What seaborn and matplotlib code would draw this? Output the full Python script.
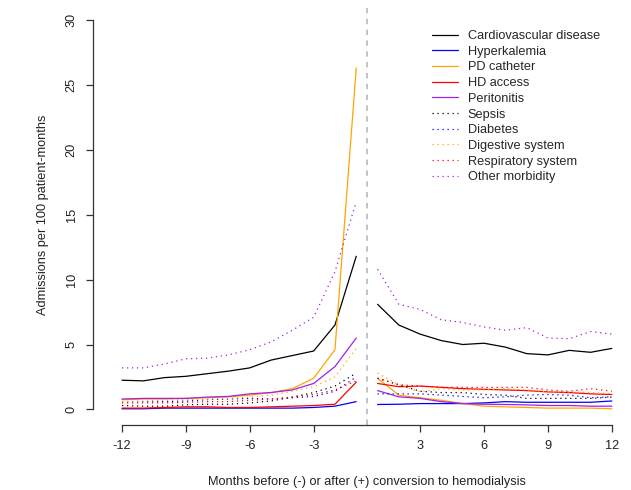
import numpy as np
import pandas as pd
import matplotlib
matplotlib.use('Agg')
import matplotlib.pyplot as plt
import seaborn as sns

# months around conversion (no month 0)
months_before = list(range(-12, 0))
months_after = list(range(1, 13))

cvd_before = [2.25, 2.2, 2.45, 2.55, 2.75, 2.95, 3.2, 3.8, 4.15, 4.5, 6.5, 11.8]
cvd_after = [8.1, 6.5, 5.8, 5.3, 5.0, 5.1, 4.8, 4.3, 4.2, 4.55, 4.4, 4.7]
hyperk_before = [0.05, 0.05, 0.1, 0.1, 0.1, 0.1, 0.1, 0.1, 0.1, 0.15, 0.25, 0.6]
hyperk_after = [0.38, 0.4, 0.45, 0.45, 0.45, 0.5, 0.6, 0.55, 0.55, 0.55, 0.55, 0.65]
pd_before = [0.75, 0.8, 0.8, 0.85, 0.9, 0.97, 1.1, 1.3, 1.6, 2.4, 4.6, 26.3]
pd_after = [2.4, 1.1, 0.9, 0.7, 0.46, 0.25, 0.2, 0.15, 0.1, 0.1, 0.1, 0.05]
hd_before = [0.1, 0.1, 0.15, 0.2, 0.2, 0.15, 0.15, 0.2, 0.25, 0.3, 0.4, 2.1]
hd_after = [2.0, 1.75, 1.8, 1.7, 1.6, 1.55, 1.5, 1.45, 1.35, 1.3, 1.2, 1.15]
peri_before = [0.8, 0.85, 0.85, 0.85, 0.95, 1.0, 1.2, 1.3, 1.5, 2.0, 3.3, 5.5]
peri_after = [1.45, 0.97, 0.85, 0.6, 0.45, 0.4, 0.38, 0.35, 0.3, 0.3, 0.25, 0.25]
sepsis_before = [0.3, 0.25, 0.25, 0.35, 0.4, 0.4, 0.5, 0.65, 0.95, 1.3, 1.8, 2.8]
sepsis_after = [2.4, 1.9, 1.4, 1.3, 1.3, 1.15, 1.1, 0.85, 0.85, 0.85, 0.85, 0.95]
diab_before = [0.6, 0.6, 0.6, 0.65, 0.75, 0.8, 0.85, 0.8, 0.9, 1.0, 1.4, 2.5]
diab_after = [1.2, 1.2, 1.2, 1.1, 1.0, 0.9, 0.97, 1.1, 1.15, 1.1, 0.9, 0.97]
digest_before = [0.6, 0.65, 0.7, 0.75, 0.8, 0.85, 0.95, 1.1, 1.4, 1.75, 2.5, 4.7]
digest_after = [2.8, 1.9, 1.35, 1.6, 1.5, 1.5, 1.6, 1.5, 1.35, 1.35, 1.3, 1.2]
resp_before = [0.5, 0.5, 0.5, 0.55, 0.6, 0.6, 0.7, 0.8, 0.95, 1.15, 1.5, 2.2]
resp_after = [2.4, 1.9, 1.8, 1.7, 1.7, 1.7, 1.7, 1.7, 1.5, 1.4, 1.6, 1.4]
other_before = [3.2, 3.2, 3.5, 3.9, 3.95, 4.2, 4.6, 5.2, 6.1, 7.1, 10.6, 16.0]
other_after = [10.8, 8.1, 7.7, 6.9, 6.7, 6.35, 6.1, 6.3, 5.5, 5.45, 6.0, 5.8]

series = [
    ('Cardiovascular disease', cvd_before, cvd_after, 'black', '-'),
    ('Hyperkalemia', hyperk_before, hyperk_after, 'blue', '-'),
    ('PD catheter', pd_before, pd_after, 'orange', '-'),
    ('HD access', hd_before, hd_after, 'red', '-'),
    ('Peritonitis', peri_before, peri_after, '#A020F0', '-'),
    ('Sepsis', sepsis_before, sepsis_after, 'black', ':'),
    ('Diabetes', diab_before, diab_after, 'blue', ':'),
    ('Digestive system', digest_before, digest_after, 'orange', ':'),
    ('Respiratory system', resp_before, resp_after, 'red', ':'),
    ('Other morbidity', other_before, other_after, '#A020F0', ':'),
]

tick_months = [-12, -9, -6, -3, 3, 6, 9, 12]


def month_pos(m):
    # months are laid out as consecutive slots, the gap at 0 is half a slot each side
    return m + 13 if m < 0 else m + 12


sns.set_style('ticks')
plt.rcParams['font.family'] = ['Liberation Sans', 'DejaVu Sans']
plt.rcParams['font.size'] = 9.2

fig = plt.figure(figsize=(6.31, 4.90), dpi=100)
ax = fig.add_axes([93 / 631, 1 - 425 / 490, 1 - 93 / 631, (425 - 4.4) / 490])

dotted = (0, (1, 3))
for name, before, after, color, ls in series:
    style = dotted if ls == ':' else '-'
    sns.lineplot(x=[month_pos(m) for m in months_before], y=before, ax=ax,
                 color=color, linestyle=style, linewidth=0.9, label=name)
    sns.lineplot(x=[month_pos(m) for m in months_after], y=after, ax=ax,
                 color=color, linestyle=style, linewidth=0.9, label='_nolegend_')

ax.axvline(12.5, color='#BEBEBE', linestyle=(0, (3, 3)), linewidth=1.3)

ax.set_xlim(-0.36, 24.9)
ax.set_ylim(-1.2, 31.2)
ax.set_xticks([month_pos(m) for m in tick_months])
ax.set_xticklabels([str(m) for m in tick_months])
ax.set_yticks(range(0, 31, 5))
ax.set_yticklabels([str(v) for v in range(0, 31, 5)], rotation=90, va='center')

for side in ['top', 'right']:
    ax.spines[side].set_visible(False)
ax.spines['bottom'].set_bounds(1, 24)
ax.spines['left'].set_bounds(0, 30)
for side in ['bottom', 'left']:
    ax.spines[side].set_color('#333333')
    ax.spines[side].set_linewidth(0.9)
ax.tick_params(axis='both', direction='out', length=5, width=0.9, color='#333333',
               labelsize=9.2, labelcolor='#222222')
ax.tick_params(axis='x', pad=6)
ax.tick_params(axis='y', pad=6)

ax.set_xlabel('Months before (-) or after (+) conversion to hemodialysis', color='#222222')
ax.set_ylabel('Admissions per 100 patient-months', color='#222222')
ax.xaxis.set_label_coords(0.509, -0.122)
ax.yaxis.set_label_coords(-0.082, 0.5)

ax.legend(loc='upper left', bbox_to_anchor=(432 / 631, 1 - 30 / 490),
          bbox_transform=fig.transFigure, frameon=False, borderpad=0,
          borderaxespad=0, handlelength=2.0, handletextpad=0.8,
          labelspacing=0.29, fontsize=9.2)

fig.savefig('out.png', dpi=100)
